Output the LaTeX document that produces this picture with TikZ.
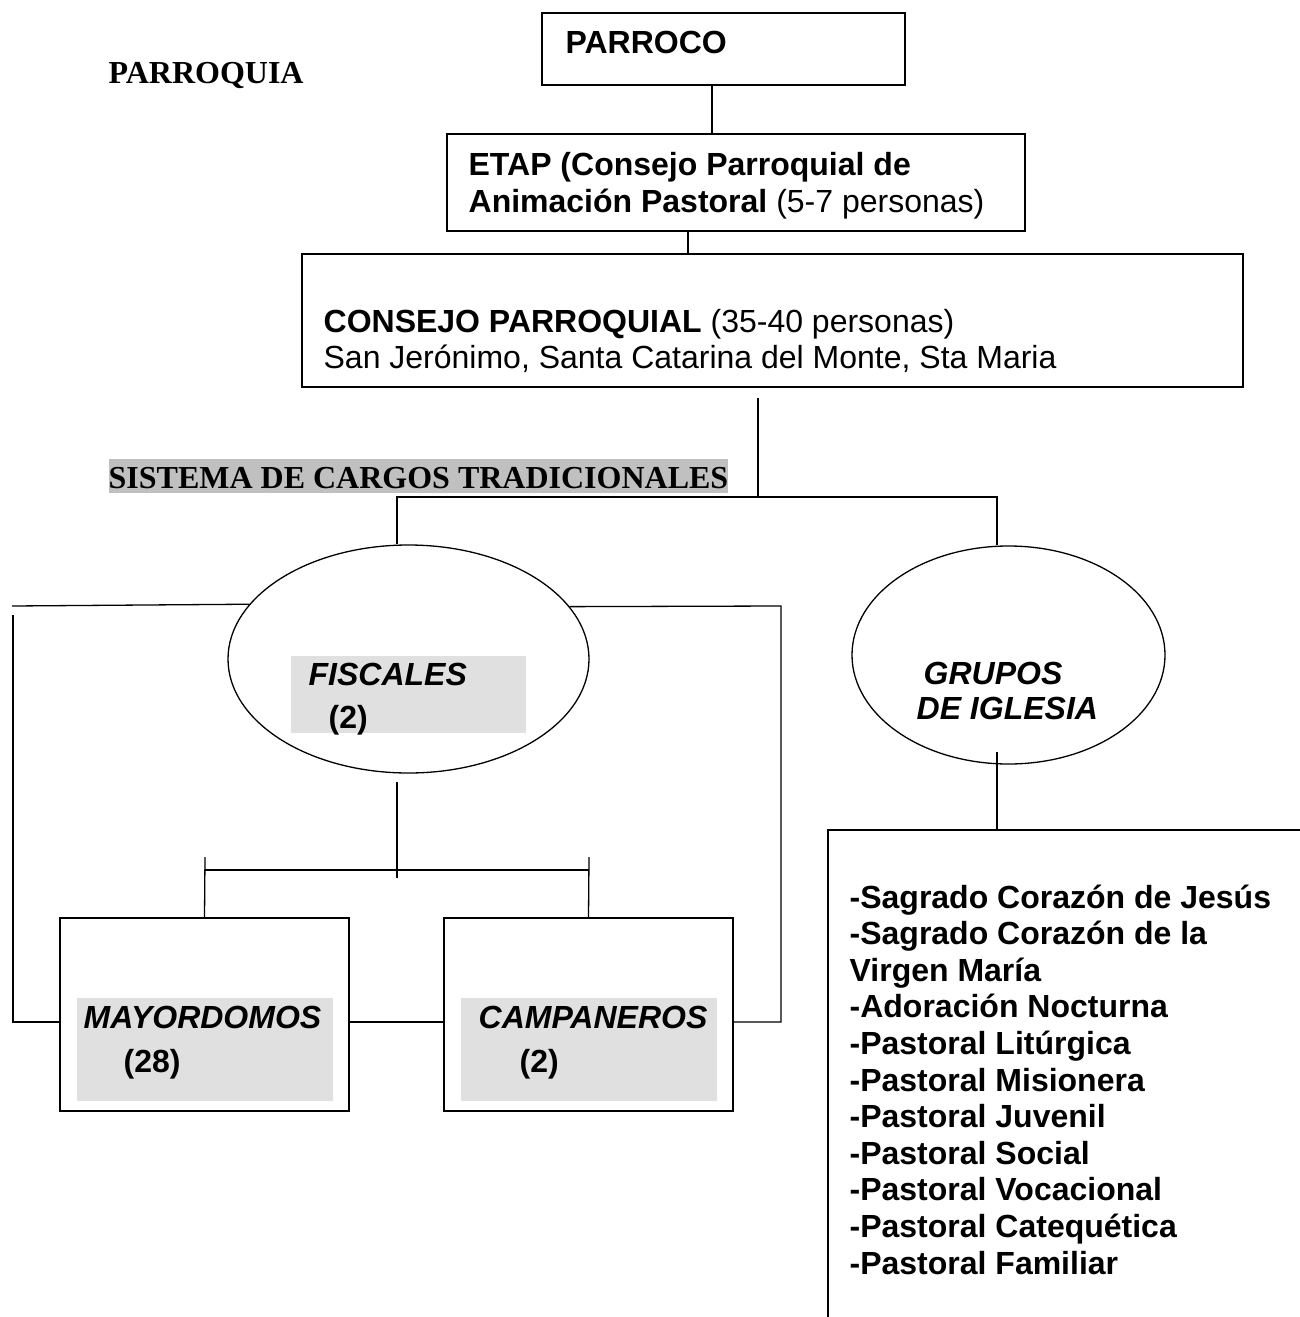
\documentclass[tikz,border=0pt]{standalone}
\usepackage{fontspec}
\setmainfont{Liberation Sans}
\newfontfamily\tnr{Liberation Serif}
\usetikzlibrary{shapes.geometric}
\definecolor{hl}{HTML}{C0C0C0}
\definecolor{lg}{HTML}{E0E0E0}
\tikzset{
  lbl/.style={anchor=base west, inner sep=0pt},
  bx/.style={draw, rectangle, inner sep=0pt},
  ov/.style={draw, ellipse, inner sep=0pt},
  gy/.style={fill=lg, draw=none, rectangle, inner sep=0pt},
}
\begin{document}
\begin{tikzpicture}[x=1pt, y=-1pt, line width=1.3pt, font=\fontsize{32}{36.6}\selectfont]
\clip (0,0) rectangle (1300,1317);
\fill[white] (0,0) rectangle (1300,1317);

% title
\node[lbl, font=\fontsize{32}{36.6}\selectfont\tnr\bfseries] (parroquia) at (108,83) {PARROQUIA};

% top boxes
\node[bx, minimum width=363, minimum height=72] (parroco) at (723.5,49) {};
\node[lbl, font=\fontsize{32}{36.6}\selectfont\bfseries] (parrocot) at (565,53) {PARROCO};

\node[bx, minimum width=578, minimum height=97] (etap) at (736,182.5) {};
\node[lbl] (etap1) at (468,175) {\textbf{ETAP (Consejo Parroquial de}};
\node[lbl] (etap2) at (468,212) {\textbf{Animación Pastoral} (5-7 personas)};

\node[bx, minimum width=941, minimum height=133] (consejo) at (772.5,320.5) {};
\node[lbl] (consejo1) at (323,332) {\textbf{CONSEJO PARROQUIAL} (35-40 personas)};
\node[lbl] (consejo2) at (323,368) {San Jerónimo, Santa Catarina del Monte, Sta Maria};

% sistema label
\node[lbl, fill=hl, text height=29pt, text depth=5pt, font=\fontsize{32}{36.6}\selectfont\tnr\bfseries] (sistema) at (108,488) {SISTEMA DE CARGOS TRADICIONALES};

% ellipses
\node[ov, minimum width=361, minimum height=228] (fiscales) at (408.5,659) {};
\node[gy, minimum width=235, minimum height=77] (fisgray) at (408.5,694.5) {};
\node[lbl, font=\fontsize{32}{36.6}\selectfont\bfseries\itshape] (fist) at (308,685) {FISCALES};
\node[lbl, font=\fontsize{32}{36.6}\selectfont\bfseries] (fisn) at (328,728) {(2)};

\node[ov, minimum width=313, minimum height=218] (grupos) at (1008.5,655) {};
\node[lbl, font=\fontsize{32}{36.6}\selectfont\bfseries\itshape] (grup1) at (923,684) {GRUPOS};
\node[lbl, font=\fontsize{32}{36.6}\selectfont\bfseries\itshape] (grup2) at (916,719) {DE IGLESIA};

% lower boxes
\node[bx, minimum width=289, minimum height=193] (mayor) at (204.5,1014.5) {};
\node[gy, minimum width=256, minimum height=103] (maygray) at (205,1049.5) {};
\node[lbl, font=\fontsize{32}{36.6}\selectfont\bfseries\itshape] (mayt) at (83,1028) {MAYORDOMOS};
\node[lbl, font=\fontsize{32}{36.6}\selectfont\bfseries] (mayn) at (123,1072) {(28)};

\node[bx, minimum width=289, minimum height=193] (campa) at (588.5,1014.5) {};
\node[gy, minimum width=256, minimum height=103] (camgray) at (589,1049.5) {};
\node[lbl, font=\fontsize{32}{36.6}\selectfont\bfseries\itshape] (camt) at (478,1028) {CAMPANEROS};
\node[lbl, font=\fontsize{32}{36.6}\selectfont\bfseries] (camn) at (519,1072) {(2)};

% groups list box (runs past the page edge)
\node[bx, minimum width=492, minimum height=510] (gbox) at (1074,1085) {};
\foreach \t [count=\i from 0] in {-Sagrado Corazón de Jesús, -Sagrado Corazón de la, Virgen María, -Adoración Nocturna, -Pastoral Litúrgica, -Pastoral Misionera, -Pastoral Juvenil, -Pastoral Social, -Pastoral Vocacional, -Pastoral Catequética, -Pastoral Familiar}
  \node[lbl, font=\fontsize{32}{36.6}\selectfont\bfseries] (g\i) at (849,{908+36.6*\i}) {\t};

% connector coordinates
\coordinate (c1) at (712,0);
\coordinate (c2) at (688,0);
\coordinate (cs) at (758,398);
\coordinate (j1) at (758,497);
\coordinate (bx1) at (397,497);
\coordinate (bx2) at (997,497);
\coordinate (l1) at (12,606);
\coordinate (l2) at (13,615);
\coordinate (l3) at (13,1022);
\coordinate (r1) at (781,606);
\coordinate (r2) at (781,1022);
\coordinate (fs1) at (397,782);
\coordinate (fs2) at (397,878);
\coordinate (hb1) at (205,870);
\coordinate (hb2) at (589,870);
\coordinate (tL) at (205,857);
\coordinate (tR) at (589,857);
\coordinate (gb) at (997,752);

% connectors
\draw (parroco.south -| c1) -- (etap.north -| c1);
\draw (etap.south -| c2) -- (consejo.north -| c2);
\draw (cs) -- (j1);
\draw (bx1 |- fiscales.north) -- (bx1) -- (bx2) -- (bx2 |- grupos.north);
\draw (l1) -- (fiscales.161.6);
\draw (l2) -- (l3) -- (l3 -| mayor.west);
\draw (fiscales.18.4) -- (r1) -- (r2) -- (r2 -| campa.east);
\draw (r2 -| mayor.east) -- (r2 -| campa.west);
\draw (fs1) -- (fs2);
\draw (hb1) -- (hb2);
\draw (tL) -- (mayor.north);
\draw (tR) -- (campa.north);
\draw (gb) -- (gb |- gbox.north);
\end{tikzpicture}
\end{document}
